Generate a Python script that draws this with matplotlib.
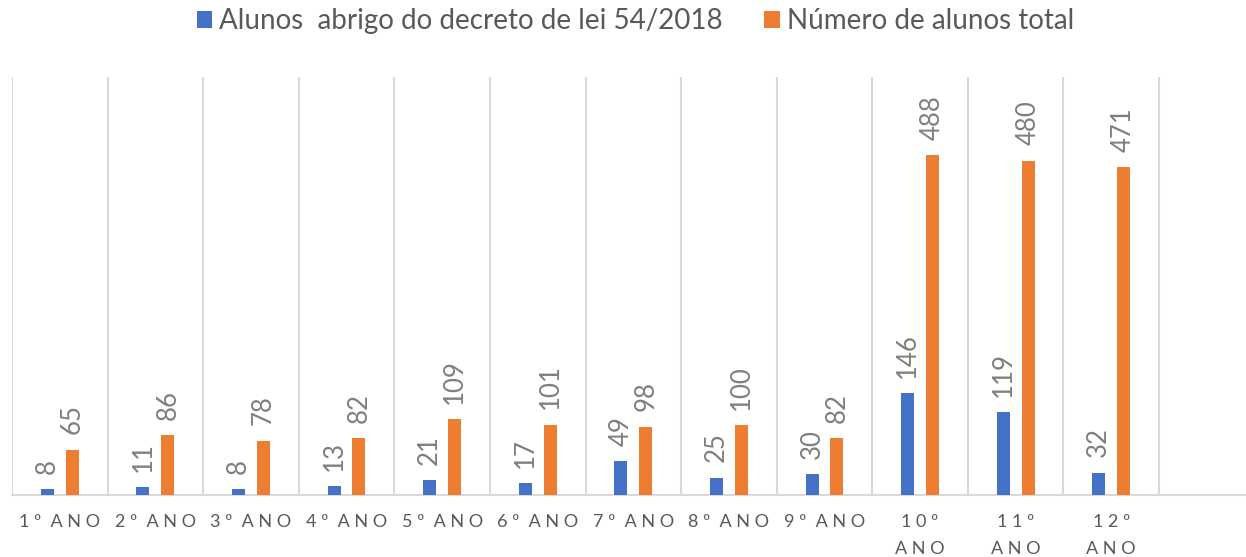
import matplotlib
matplotlib.use("Agg")
import matplotlib.pyplot as plt
import numpy as np

plt.rcParams['font.family'] = ['Lato', 'DejaVu Sans']

# data
categories = ["1º ANO", "2º ANO", "3º ANO", "4º ANO", "5º ANO", "6º ANO",
              "7º ANO", "8º ANO", "9º ANO", "10º\nANO", "11º\nANO", "12º\nANO"]
alunos_decreto = [8, 11, 8, 13, 21, 17, 49, 25, 30, 146, 119, 32]
alunos_total = [65, 86, 78, 82, 109, 101, 98, 100, 82, 488, 480, 471]
series_names = ["Alunos  abrigo do decreto de lei 54/2018", "Número de alunos total"]

BLUE = '#4472C4'
ORANGE = '#ED7D31'
GRID = '#D9D9D9'
TEXT = '#595959'
LABEL = '#7F7F7F'

def spaced(s):
    # rough letter spacing like the original tick labels
    out = []
    for line in s.split("\n"):
        words = [" ".join(w) for w in line.split(" ")]
        out.append("  ".join(words))
    return "\n".join(out)

fig = plt.figure(figsize=(12.46, 5.57), dpi=100)
ax = fig.add_axes([12 / 1246, 62 / 557, 0.9973, 418 / 557])

x = np.arange(len(categories))
w = 0.136
off = 0.13
b1 = ax.bar(x - off, alunos_decreto, w, color=BLUE, label=series_names[0], zorder=3)
b2 = ax.bar(x + off, alunos_total, w, color=ORANGE, label=series_names[1], zorder=3)

for bars, vals in ((b1, alunos_decreto), (b2, alunos_total)):
    for rect, v in zip(bars, vals):
        ax.annotate(str(v), (rect.get_x() + rect.get_width() / 2, v),
                    xytext=(0, 11), textcoords='offset points',
                    rotation=90, ha='center', va='bottom',
                    fontsize=18.5, color=LABEL)

ax.set_xlim(-0.5, len(categories) + 0.5)
ax.set_ylim(0, 600)
ax.set_yticks([])
ax.set_xticks(x)
ax.set_xticklabels([spaced(c) for c in categories], fontsize=13, color=TEXT,
                   linespacing=1.85, va='top')
ax.set_xticks(np.arange(-0.5, len(categories) + 1, 1), minor=True)
ax.tick_params(axis='x', which='both', length=0, pad=14)
ax.grid(which='minor', axis='x', color=GRID, linewidth=1.5, zorder=0)
ax.grid(which='major', axis='x', visible=False)

for s in ('top', 'left', 'right'):
    ax.spines[s].set_visible(False)
ax.spines['bottom'].set_color(GRID)
ax.spines['bottom'].set_linewidth(1.5)

leg = fig.legend(loc='upper center', bbox_to_anchor=(0.51, 1.03), ncol=2,
                 frameon=False, fontsize=20, handlelength=0.55, handleheight=0.55,
                 handletextpad=0.25, columnspacing=1.5)
for t in leg.get_texts():
    t.set_color(TEXT)

fig.savefig("out.png", dpi=100)
